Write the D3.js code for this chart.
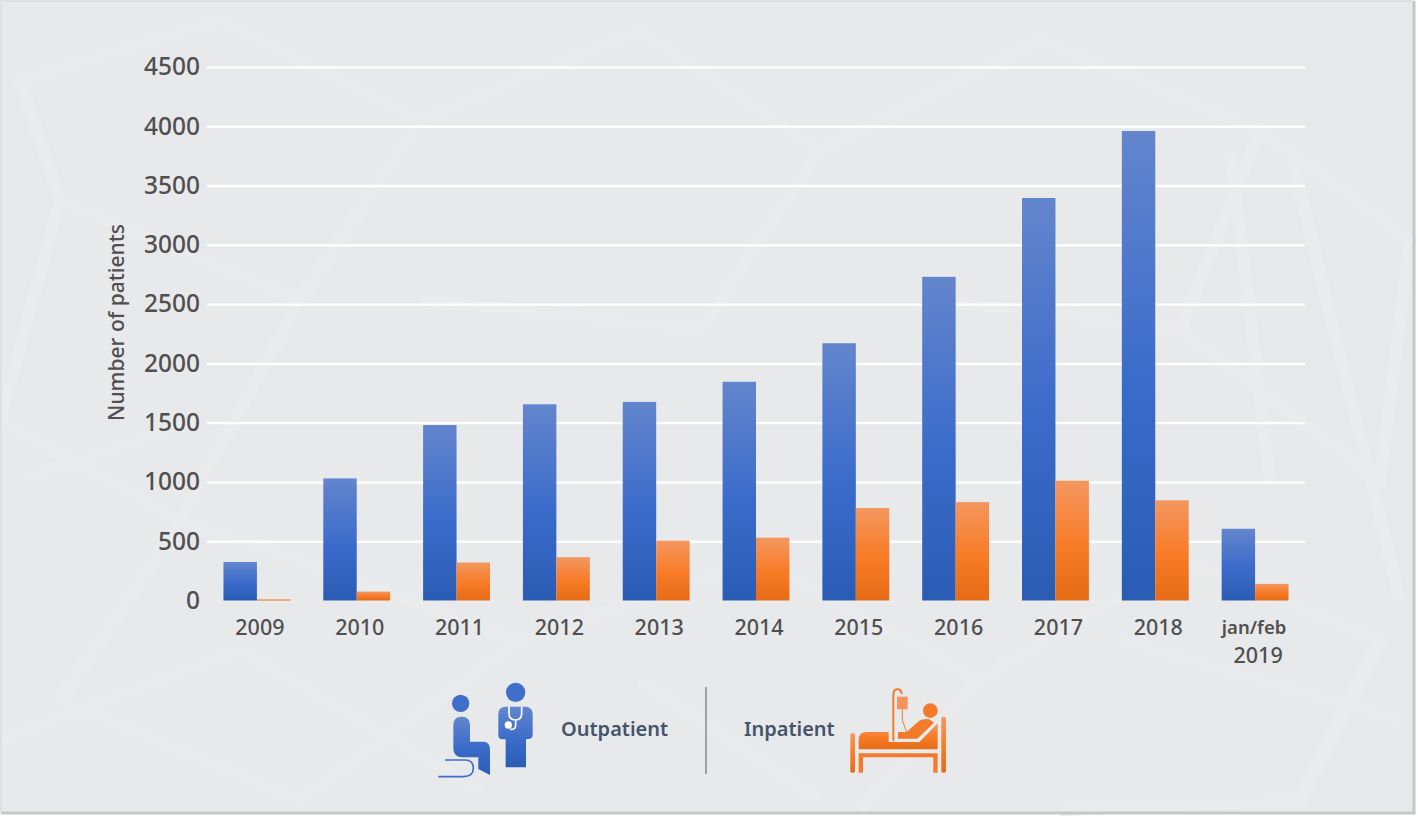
<!DOCTYPE html>
<html>
<head>
<meta charset="utf-8">
<title>Number of patients</title>
<script src="https://cdn.jsdelivr.net/npm/d3@7"></script>
<style>
	html, body { margin: 0; padding: 0; background: #fff; overflow: hidden; }
	svg { display: block; }
	text { font-family: "Noto Sans", sans-serif; }
</style>
</head>
<body>
<div id="chart"></div>
<script>

// values
const categories = ["2009", "2010", "2011", "2012", "2013", "2014", "2015", "2016", "2017", "2018", "jan/feb 2019"];
const outpatient = [325, 1030, 1480, 1655, 1675, 1845, 2170, 2730, 3395, 3960, 605];
const inpatient = [10, 75, 320, 365, 505, 530, 780, 830, 1010, 845, 140];
const yTicks = [0, 500, 1000, 1500, 2000, 2500, 3000, 3500, 4000, 4500];
const seriesNames = ["Outpatient", "Inpatient"];

const width = 1418, height = 816;
const plot = { left: 207, right: 1305, top: 67, bottom: 600.5 };

const svg = d3.select("#chart").append("svg").attr("width", width).attr("height", height);
const defs = svg.append("defs");

function addGradient(id, stops) {
	const g = defs.append("linearGradient").attr("id", id).attr("x1", 0).attr("y1", 0).attr("x2", 0).attr("y2", 1);
	stops.forEach(s => g.append("stop").attr("offset", s[0]).attr("stop-color", s[1]));
}
addGradient("blueGrad", [[0, "#6385cd"], [0.55, "#3a6bca"], [1, "#2b5cb4"]]);
addGradient("orangeGrad", [[0, "#f4975f"], [0.55, "#f87b26"], [1, "#e56b16"]]);

// panel and its frame
svg.append("rect").attr("x", 0).attr("y", 0).attr("width", 1414).attr("height", 813).attr("fill", "#e8e9eb");

// faint background texture
const texture = [
	"M20,80L220,20L420,120L300,300L60,200Z",
	"M60,200L0,420L180,520L300,300",
	"M420,120L640,30L820,150L700,330L420,300",
	"M820,150L1040,40L1260,130L1180,330L930,300",
	"M1260,130L1410,240L1380,480L1180,330",
	"M180,520L60,700L300,800L520,640L300,560Z",
	"M520,640L760,560L980,680L860,810",
	"M980,680L1180,560L1380,640L1300,800L1060,810",
	"M1230,150L1270,480M1290,150L1400,600M1120,640L1400,720",
	"M0,740L240,650L480,790M640,680L820,800M20,480L200,420"
];
svg.append("g").selectAll("path").data(texture).join("path")
	.attr("d", d => d).attr("fill", "none").attr("stroke", "#eaebed").attr("stroke-width", 12);

svg.append("path").attr("d", "M1414,1V813H1").attr("fill", "none").attr("stroke", "#c6c7c9").attr("stroke-width", 3);
svg.append("path").attr("d", "M1,813V1H1414").attr("fill", "none").attr("stroke", "#dcdde0").attr("stroke-width", 1.5);

const x = d3.scaleBand().domain(categories).range([plot.left, plot.right]).paddingInner(0.33).paddingOuter(0.165);
const xSeries = d3.scaleBand().domain(seriesNames).range([0, x.bandwidth()]);
const y = d3.scaleLinear().domain([0, 4500]).range([plot.bottom, plot.top]);

// gridlines + y labels
const yAxis = svg.append("g").attr("transform", "translate(" + plot.left + ",0)")
	.call(d3.axisLeft(y).tickValues(yTicks).tickFormat(d3.format("d")).tickSize(-(plot.right - plot.left)).tickPadding(7));
yAxis.select(".domain").remove();
yAxis.selectAll("line").attr("stroke", d => d == 0 ? "#eceded" : "#ffffff").attr("stroke-width", d => d == 0 ? 1 : 2.4);
yAxis.selectAll("text").attr("fill", "#505050").attr("font-size", 24.5).attr("font-weight", 500);

// bars
const groups = svg.append("g").selectAll("g").data(categories).join("g")
	.attr("transform", d => "translate(" + x(d) + ",0)");
groups.append("rect")
	.attr("x", xSeries("Outpatient")).attr("width", xSeries.bandwidth())
	.attr("y", (d, i) => y(outpatient[i])).attr("height", (d, i) => y(0) - y(outpatient[i]))
	.attr("fill", "url(#blueGrad)");
groups.append("rect")
	.attr("x", xSeries("Inpatient")).attr("width", xSeries.bandwidth())
	.attr("y", (d, i) => y(inpatient[i])).attr("height", (d, i) => y(0) - y(inpatient[i]))
	.attr("fill", "url(#orangeGrad)");

// x labels, last one wraps on two lines
const xAxis = svg.append("g").attr("transform", "translate(0," + plot.bottom + ")")
	.call(d3.axisBottom(x).tickSize(0).tickPadding(0));
xAxis.select(".domain").remove();
xAxis.selectAll("text").each(function (d) {
	const t = d3.select(this).text(null).attr("fill", "#505050").attr("font-weight", 500).attr("y", 0).attr("dy", null);
	if (d.indexOf(" ") < 0) {
		t.append("tspan").attr("x", 3).attr("y", 34).attr("font-size", 21.5).text(d);
	} else {
		const parts = d.split(" ");
		t.append("tspan").attr("x", -1).attr("y", 33).attr("font-size", 18.5).attr("font-weight", 600).text(parts[0]);
		t.append("tspan").attr("x", 3).attr("y", 62).attr("font-size", 21.5).text(parts[1]);
	}
});

svg.append("text").attr("transform", "translate(124,322.5) rotate(-90)")
	.attr("text-anchor", "middle").attr("fill", "#505050").attr("font-size", 21).attr("font-weight", 500)
	.text("Number of patients");

// legend
svg.append("text").attr("x", 561).attr("y", 736).attr("fill", "#44546a").attr("font-size", 20).attr("font-weight", 600).text(seriesNames[0]);
svg.append("text").attr("x", 744).attr("y", 736).attr("fill", "#44546a").attr("font-size", 20).attr("font-weight", 600).text(seriesNames[1]);
svg.append("line").attr("x1", 706).attr("x2", 706).attr("y1", 687).attr("y2", 774).attr("stroke", "#85888c").attr("stroke-width", 1.5);

// outpatient icon
const iconOut = svg.append("g").attr("transform", "translate(420,670) scale(0.3333)");
iconOut.append("circle").attr("cx", 122).attr("cy", 100).attr("r", 26).attr("fill", "#3f6fcb");
iconOut.append("path").attr("fill", "url(#blueGrad)")
	.attr("d", "M100,165Q100,140 125,140Q150,140 150,165V215H190Q210,215 210,238V315L175,297V262H128Q100,262 100,235Z");
iconOut.append("path").attr("fill", "none").attr("stroke", "#3f6fcb").attr("stroke-width", 5)
	.attr("d", "M75,270H135Q160,270 160,295Q160,320 130,320H55");
iconOut.append("circle").attr("cx", 287).attr("cy", 67).attr("r", 29).attr("fill", "#3f6fcb");
iconOut.append("path").attr("fill", "url(#blueGrad)")
	.attr("d", "M235,132Q235,112 255,110H318Q338,112 338,132V195Q338,208 318,208V292H257V208H248Q235,208 235,195Z");
iconOut.append("path").attr("fill", "none").attr("stroke", "#fff").attr("stroke-width", 5)
	.attr("d", "M267,110V130Q267,150 287,150Q305,150 305,130V110M287,150V165Q287,180 270,178");
iconOut.append("circle").attr("cx", 265).attr("cy", 165).attr("r", 11).attr("fill", "#fff");

// inpatient icon
const iconIn = svg.append("g").attr("transform", "translate(720,670) scale(0.3333)");
iconIn.append("rect").attr("x", 391).attr("y", 190).attr("width", 14).attr("height", 118).attr("rx", 5).attr("fill", "url(#orangeGrad)");
iconIn.append("rect").attr("x", 664).attr("y", 140).attr("width", 14).attr("height", 168).attr("rx", 5).attr("fill", "url(#orangeGrad)");
iconIn.append("path").attr("fill", "#f37a2a").attr("d", "M416,308V250H653V308H640V262H429V308Z");
iconIn.append("path").attr("fill", "url(#orangeGrad)")
	.attr("d", "M416,238V210Q416,186 440,186H506V216H598L653,160V238Z");
iconIn.append("path").attr("fill", "#f37a2a")
	.attr("d", "M560,186L598,152Q612,144 628,148L642,158L592,206H534V186Z");
iconIn.append("circle").attr("cx", 631).attr("cy", 122).attr("r", 22).attr("fill", "#f37a2a");
iconIn.append("path").attr("fill", "none").attr("stroke", "#f37a2a").attr("stroke-width", 6)
	.attr("d", "M520,212V75Q520,58 532,58Q545,58 545,72");
iconIn.append("rect").attr("x", 531).attr("y", 80).attr("width", 32).attr("height", 38).attr("fill", "#f4935a");
iconIn.append("path").attr("fill", "none").attr("stroke", "#f37a2a").attr("stroke-width", 3)
	.attr("d", "M547,118V150L560,186");

</script>
</body>
</html>
